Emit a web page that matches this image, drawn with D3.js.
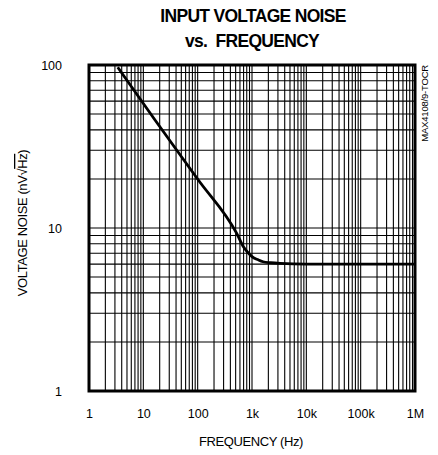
<!DOCTYPE html>
<html>
<head>
<meta charset="utf-8">
<script src="https://cdn.jsdelivr.net/npm/d3@7"></script>
<style>
  html, body { margin: 0; padding: 0; background: #fff; }
  svg text { font-family: Arial, "Liberation Sans", Helvetica, sans-serif; fill: #000; }
</style>
</head>
<body>
<svg id="chart" width="438" height="455"></svg>
<script>
// ---- data ----
const freqHz = [3.38, 16.4, 102.8, 523, 700, 850, 1000, 1300, 1600, 2200, 3300, 10000, 100000, 1000000];
const noise  = [96.8, 46.0, 19.7, 9.27, 7.65, 7.05, 6.67, 6.38, 6.21, 6.12, 6.06, 6.0, 6.0, 6.0];
const xTickValues = [1, 10, 100, 1000, 10000, 100000, 1000000];
const xTickLabels = ["1", "10", "100", "1k", "10k", "100k", "1M"];
const yTickValues = [1, 10, 100];
const yTickLabels = ["1", "10", "100"];

const svg = d3.select("#chart");
const pL = 89, pR = 415, pT = 65, pB = 391;

const x = d3.scaleLog().domain([1, 1e6]).range([pL, pR]);
const y = d3.scaleLog().domain([1, 100]).range([pB, pT]);

// titles
svg.append("text").attr("x", 253).attr("y", 22).attr("text-anchor", "middle")
  .style("font-size", "17.5px").style("font-weight", "bold").style("letter-spacing", "-0.7px")
  .text("INPUT VOLTAGE NOISE");
svg.append("text").attr("x", 252).attr("y", 46.5).attr("text-anchor", "middle")
  .style("font-size", "17.5px").style("font-weight", "bold").style("letter-spacing", "-0.7px")
  .text("vs.\u00A0\u00A0FREQUENCY");

// grid
const g = svg.append("g");
g.selectAll("line.vx").data(x.ticks()).enter().append("line")
  .attr("x1", d => x(d)).attr("x2", d => x(d)).attr("y1", pT).attr("y2", pB)
  .attr("stroke", "#000").attr("stroke-width", 1.1);
g.selectAll("line.hy").data(y.ticks()).enter().append("line")
  .attr("x1", pL).attr("x2", pR).attr("y1", d => y(d)).attr("y2", d => y(d))
  .attr("stroke", "#000").attr("stroke-width", 1.1);

// curve
const line = d3.line().x((d, i) => x(freqHz[i])).y((d, i) => y(noise[i])).curve(d3.curveMonotoneX);
svg.append("path").attr("d", line(noise)).attr("fill", "none")
  .attr("stroke", "#000").attr("stroke-width", 2.8).attr("stroke-linejoin", "round");

// frame
svg.append("rect").attr("x", pL).attr("y", pT).attr("width", pR - pL).attr("height", pB - pT)
  .attr("fill", "none").attr("stroke", "#000").attr("stroke-width", 3);

// axes
const xAxis = d3.axisBottom(x).tickValues(xTickValues).tickFormat((d, i) => xTickLabels[i]).tickSize(0).tickPadding(18);
const gx = svg.append("g").attr("transform", `translate(0,${pB})`).call(xAxis);
gx.select(".domain").remove();
gx.selectAll("text").style("font-size", "12.5px").style("font-family", "Arial, 'Liberation Sans', sans-serif");

const yAxis = d3.axisLeft(y).tickValues(yTickValues).tickFormat((d, i) => yTickLabels[i]).tickSize(0).tickPadding(27);
const gy = svg.append("g").attr("transform", `translate(${pL},0)`).call(yAxis);
gy.select(".domain").remove();
gy.selectAll("text").style("font-size", "12.5px").style("font-family", "Arial, 'Liberation Sans', sans-serif");

// axis titles
svg.append("text").attr("x", 251).attr("y", 446).attr("text-anchor", "middle")
  .style("font-size", "13px").style("letter-spacing", "-0.4px").text("FREQUENCY (Hz)");

const yt = svg.append("text").attr("transform", "translate(27,223) rotate(-90)").attr("text-anchor", "middle")
  .style("font-size", "13px").style("letter-spacing", "-0.4px");
yt.append("tspan").text("VOLTAGE NOISE (nV\u221A");
yt.append("tspan").style("text-decoration", "overline").text("Hz");
yt.append("tspan").text(")");

// side code
svg.append("text").attr("transform", "translate(428,65) rotate(-90)").attr("text-anchor", "end")
  .style("font-size", "9.5px").style("letter-spacing", "-0.2px").text("MAX4108/9-TOCR");
</script>
</body>
</html>
